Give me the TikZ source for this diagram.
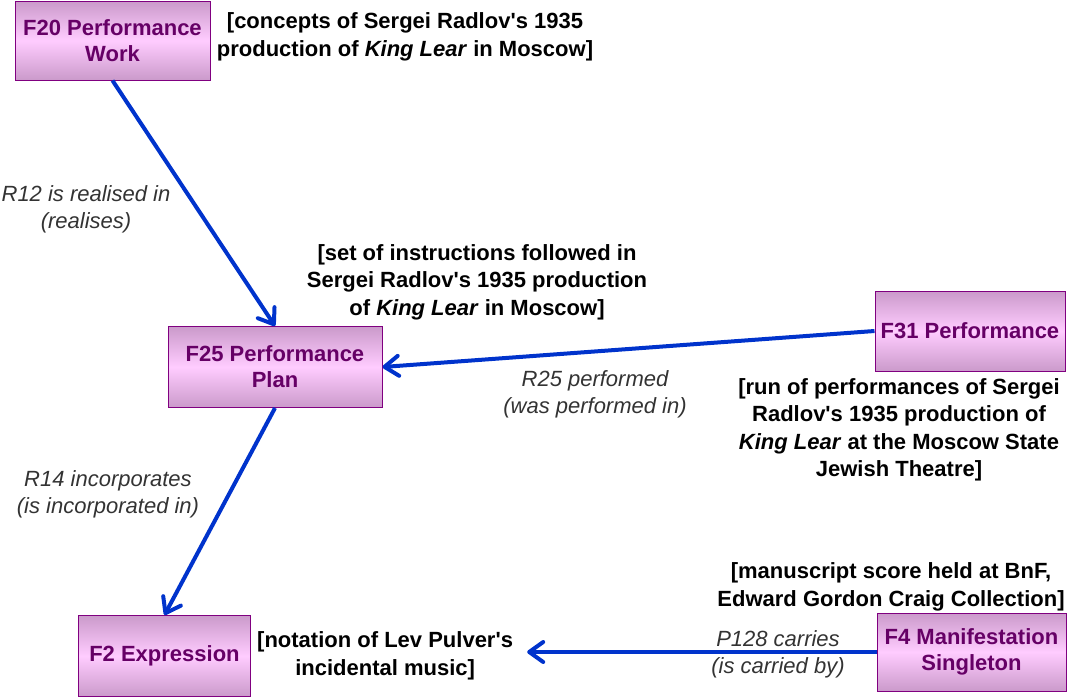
\documentclass[tikz,border=0pt]{standalone}
\usepackage{fontspec}
\setmainfont{Liberation Sans}
\usetikzlibrary{positioning}
\usetikzlibrary{arrows.meta}
\definecolor{entityBorder}{HTML}{800080}
\definecolor{entityText}{HTML}{660066}
\definecolor{entityLight}{HTML}{FFCCFF}
\definecolor{entityDark}{HTML}{BC8CBC}
\definecolor{relBlue}{HTML}{0033CC}
\definecolor{labelGray}{HTML}{333333}
\pgfdeclareverticalshading{entityShade}{100bp}{color(0bp)=(entityDark); color(18bp)=(entityDark); color(50bp)=(entityLight); color(82bp)=(entityDark); color(100bp)=(entityDark)}
\tikzstyle{entity} = [rectangle, draw=entityBorder, line width=1pt, shading=entityShade, text=entityText, align=center, font=\fontsize{22}{26}\selectfont\bfseries]
\tikzstyle{note} = [align=center, inner sep=0pt, font=\fontsize{22}{27.5}\selectfont\bfseries]
\tikzstyle{relLabel} = [align=center, inner sep=0pt, text=labelGray, font=\fontsize{22}{27}\selectfont\itshape]
\tikzstyle{relation} = [draw=relBlue, line width=4pt, -{Straight Barb[length=14pt,width=20pt,round]}]

\begin{document}
\begin{tikzpicture}[x=1pt, y=-1pt, node distance=6pt]
    \useasboundingbox (0,0) rectangle (1069,697);
    \node (work) at (112.5,40.5) [entity, minimum width=195pt, minimum height=79pt] {F20 Performance\\Work};
    \node (plan) at (275,367) [entity, minimum width=214pt, minimum height=81pt] {F25 Performance\\Plan};
    \node (perf) at (970,331) [entity, minimum width=190pt, minimum height=80pt] {F31 Performance};
    \node (expr) at (164.5,656) [entity, minimum width=172pt, minimum height=81pt] {F2 Expression};
    \node (manif) at (971.5,652) [entity, minimum width=189pt, minimum height=78pt] {F4 Manifestation\\Singleton};

    \node (workNote) at (405,37) [note] {[concepts of Sergei Radlov\textquotesingle s 1935\\production of \textit{King Lear} in Moscow]};
    \node (planNote) at (477,282) [note] {[set of instructions followed in\\Sergei Radlov\textquotesingle s 1935 production\\of \textit{King Lear} in Moscow]};
    \node (perfNote) at (899,430) [note] {[run of performances of Sergei\\Radlov\textquotesingle s 1935 production of\\\textit{King Lear} at the Moscow State\\Jewish Theatre]};
    \node (manifNote) at (891,587) [note] {[manuscript score held at BnF,\\Edward Gordon Craig Collection]};
    \node (exprNote) [right=of expr, note] {[notation of Lev Pulver\textquotesingle s\\incidental music]};
    \coordinate [right=14pt of exprNote.east] (carriesEnd);

    % relation labels
    \node (realises) at (86,209) [relLabel] {R12 is realised in\\(realises)};
    \node (performed) at (595,394) [relLabel] {R25 performed\\(was performed in)};
    \node (incorporates) at (108,494) [relLabel] {R14 incorporates\\(is incorporated in)};
    \node (carries) at (778,654) [relLabel] {P128 carries\\(is carried by)};

    \draw [relation] (work.south) -- (plan.north);
    \draw [relation] (perf.west) -- (plan.east);
    \draw [relation] (plan.south) -- (expr.north);
    \draw [relation] (manif.west) -- (manif.west -| carriesEnd);
\end{tikzpicture}
\end{document}
